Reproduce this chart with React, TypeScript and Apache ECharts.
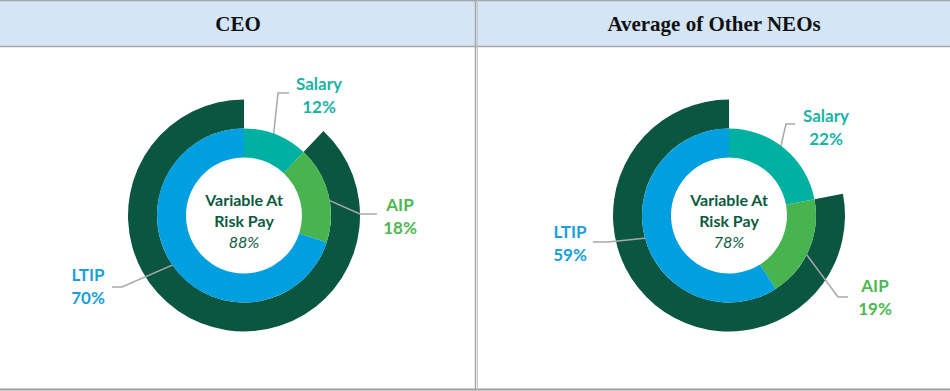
import React, { useEffect, useRef } from "react";
import * as echarts from "echarts";

// ---- data ----
const categories = ["Salary", "AIP", "LTIP"];
const ceoValues = [12, 18, 70];
const neoValues = [22, 19, 59];
const ceoAtRisk = 88;
const neoAtRisk = 78;
const panelTitles = ["CEO", "Average of Other NEOs"];
const centerTitle = ["Variable At", "Risk Pay"];

// ---- styles / layout ----
const sliceColors = ["#00B0A1", "#47B450", "#009FDF"];
const labelColors = ["#1BB3A6", "#4CB851", "#1BA0DC"];
const darkGreen = "#0A5640";
const centers = [
  [244, 215.5],
  [729, 215.5],
];
// label layout relative to the pie centre: [labelX, labelY, elbowX, elbowY, endX]
const labelLayouts = [
  [
    [75, -121, 34, -122.5, 45],
    [156, 0.5, 116, -1.5, 133],
    [-156, 70.5, -122, 71.5, -132],
  ],
  [
    [97, -89, 57, -91.5, 66],
    [146, 81.5, 109, 81.5, 119],
    [-159, 27.5, -121, 26.5, -136],
  ],
];

function buildSeries(idx: number, values: number[], atRisk: number) {
  const [cx, cy] = centers[idx];
  const total = values.reduce((a, b) => a + b, 0);
  const mids: number[] = [];
  let acc = 0;
  values.forEach((v) => {
    mids.push(((acc + v / 2) / total) * Math.PI * 2);
    acc += v;
  });
  const outer = {
    type: "pie",
    z: 2,
    center: [cx, cy],
    radius: [87, 116],
    startAngle: 90,
    clockwise: true,
    silent: true,
    emphasis: { disabled: true },
    data: [
      {
        name: "gap",
        value: 100 - atRisk,
        itemStyle: { color: "rgba(0,0,0,0)" },
        label: { show: false },
        labelLine: { show: false },
      },
      {
        name: "Variable At Risk Pay",
        value: atRisk,
        itemStyle: { color: darkGreen },
        label: {
          show: true,
          position: "center",
          offset: [0, 5],
          formatter: () =>
            `{t|${centerTitle[0]}}\n{t|${centerTitle[1]}}\n{i|${atRisk}%}`,
          rich: {
            t: {
              fontFamily: "Lato",
              fontWeight: "bold",
              fontSize: 16,
              color: "#0B5A40",
              lineHeight: 21,
            },
            i: {
              fontFamily: "Lato",
              fontStyle: "italic",
              fontSize: 16,
              color: "#0B5A40",
              lineHeight: 21,
            },
          },
        },
      },
    ],
  };
  const inner = {
    type: "pie",
    z: 3,
    center: [cx, cy],
    radius: [58, 87],
    startAngle: 90,
    clockwise: true,
    silent: true,
    emphasis: { disabled: true },
    label: {
      show: true,
      position: "outside",
      formatter: "{b}\n{c}%",
      fontFamily: "Lato",
      fontWeight: "bold",
      fontSize: 17,
      lineHeight: 23,
    },
    labelLine: {
      show: true,
      smooth: false,
      lineStyle: { color: "#A8A8A8", width: 1.5 },
    },
    labelLayout: (p: any) => {
      const i = p.dataIndex;
      const L = labelLayouts[idx][i];
      const a = mids[i];
      const r = 78;
      const sx = cx + r * Math.sin(a);
      const sy = cy - r * Math.cos(a);
      return {
        x: cx + L[0],
        y: cy + L[1],
        align: "center",
        verticalAlign: "middle",
        labelLinePoints: [
          [sx, sy],
          [cx + L[2], cy + L[3]],
          [cx + L[4], cy + L[3]],
        ],
      };
    },
    data: categories.map((name, i) => ({
      name,
      value: values[i],
      itemStyle: { color: sliceColors[i] },
      label: { color: labelColors[i] },
    })),
  };
  return [outer, inner];
}

export default function App() {
  const ref = useRef<HTMLDivElement>(null);
  useEffect(() => {
    if (!ref.current) return;
    const chart = echarts.init(ref.current, undefined, { renderer: "svg" });
    const border = "#A6A6A6";
    chart.setOption({
      animation: false,
      backgroundColor: "#FFFFFF",
      graphic: [
        {
          type: "rect",
          shape: { x: 0, y: 1, width: 950, height: 45 },
          style: { fill: "#D4E5F6" },
          z: 0,
        },
        {
          type: "line",
          shape: { x1: 0, y1: 0.5, x2: 950, y2: 0.5 },
          style: { stroke: border, lineWidth: 1.5 },
        },
        {
          type: "line",
          shape: { x1: 0, y1: 46.5, x2: 950, y2: 46.5 },
          style: { stroke: border, lineWidth: 1.5 },
        },
        {
          type: "line",
          shape: { x1: 0, y1: 389.5, x2: 950, y2: 389.5 },
          style: { stroke: "#9C9C9C", lineWidth: 2 },
        },
        {
          type: "line",
          shape: { x1: 475.5, y1: 0, x2: 475.5, y2: 391 },
          style: { stroke: border, lineWidth: 1.5 },
        },
        {
          type: "line",
          shape: { x1: 477.5, y1: 0, x2: 477.5, y2: 391 },
          style: { stroke: "#C8C8C8", lineWidth: 1 },
        },
        {
          type: "text",
          x: 238,
          y: 24,
          style: {
            text: panelTitles[0],
            fontFamily: "Liberation Serif",
            fontWeight: "bold",
            fontSize: 21,
            fill: "#111111",
            align: "center",
            verticalAlign: "middle",
          },
        },
        {
          type: "text",
          x: 714,
          y: 24,
          style: {
            text: panelTitles[1],
            fontFamily: "Liberation Serif",
            fontWeight: "bold",
            fontSize: 21,
            fill: "#111111",
            align: "center",
            verticalAlign: "middle",
          },
        },
      ],
      series: [
        ...buildSeries(0, ceoValues, ceoAtRisk),
        ...buildSeries(1, neoValues, neoAtRisk),
      ],
    });
    return () => chart.dispose();
  }, []);
  return (
    <div
      ref={ref}
      style={{ position: "absolute", left: 0, top: 0, width: 950, height: 391 }}
    />
  );
}
